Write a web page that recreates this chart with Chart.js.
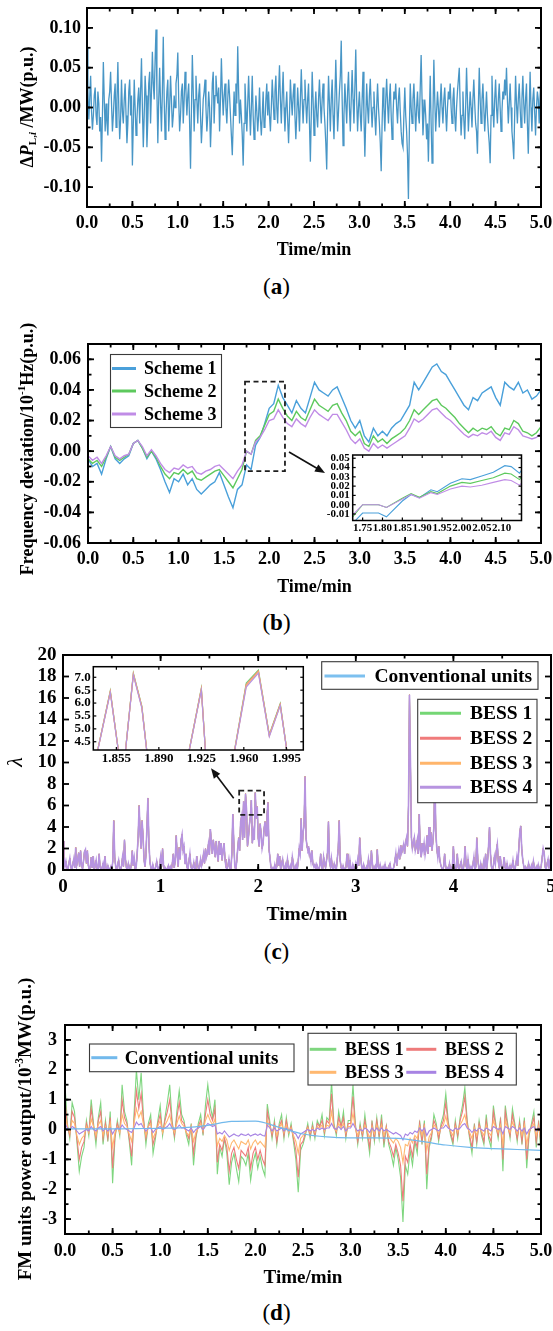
<!DOCTYPE html>
<html>
<head>
<meta charset="utf-8">
<script src="https://cdn.jsdelivr.net/npm/chart.js@4.4.1/dist/chart.umd.min.js"></script>
<style>
  body { margin: 0; background: #fff; width: 553px; height: 1331px; position: relative; overflow: hidden; }
  canvas { position: absolute; }
  .cap { position: absolute; left: 0; width: 553px; height: 26px; line-height: 26px; text-align: center;
         font-family: 'Liberation Serif', 'Times New Roman', serif; font-size: 23px; color: #000; }
</style>
</head>
<body>
<canvas id="chartA" width="553" height="270" style="left:0;top:0"></canvas>
<canvas id="chartB" width="553" height="310" style="left:0;top:300px"></canvas>
<canvas id="chartC" width="553" height="295" style="left:0;top:640px"></canvas>
<canvas id="chartD" width="553" height="330" style="left:0;top:965px"></canvas>
<canvas id="insetB" width="210" height="90" style="left:318px;top:452px"></canvas>
<canvas id="insetC" width="255" height="104" style="left:55px;top:662px"></canvas>
<div class="cap" style="top:274px">(<b>a</b>)</div>
<div class="cap" style="top:610px">(<b>b</b>)</div>
<div class="cap" style="top:939px">(<b>c</b>)</div>
<div class="cap" style="top:1300px">(<b>d</b>)</div>
<script>
const SERIF = "'Liberation Serif', 'Times New Roman', serif";

// sample times on a regular grid
function steps(start, step, n) {
  const out = [];
  for (let i = 0; i < n; i++) out.push(+(start + i * step).toFixed(4));
  return out;
}
// tick-mark positions between two bounds
function marksBetween(min, max, step) {
  const out = [], n = Math.round((max - min) / step);
  for (let i = 0; i <= n; i++) out.push(+(min + i * step).toFixed(5));
  return out;
}
const pts = (xs, ys) => ys.map((v, i) => ({ x: xs[i], y: v }));

// ---------- (a) load disturbance ----------
const aTime = steps(0, 0.01, 501);
const aLoad = [
  .075,.02,-.015,.012,.04,-.005,-.028,-.01,.015,.025,-.01,-.022,.02,.005,-.03,-.012,-.068,-.01,.057,.01,
  -.03,.005,-.02,-.035,.01,.02,.045,.005,-.03,-.01,.015,.03,-.025,.01,.057,.0,-.04,-.015,.035,-.005,
  -.02,.01,.03,-.01,-.045,-.02,.02,.035,-.01,.015,-.073,-.02,.035,.0,-.035,-.015,.01,.025,-.02,.02,
  .062,.0,-.05,-.01,.04,.015,-.05,-.015,.03,.045,-.02,.02,.07,.03,.01,.06,.098,.02,-.045,.01,
  .05,.005,-.03,.02,.089,.01,-.04,-.01,.02,.035,-.03,.0,.04,.01,-.025,-.01,.015,.0,.03,.04,
  .069,.01,-.03,-.01,.02,.03,-.02,.01,.045,.02,-.01,.015,.03,-.02,-.077,-.005,.066,.02,-.03,.01,
  .04,.01,-.02,.015,.03,-.01,-.045,-.02,.01,.02,.035,.0,-.03,-.01,.02,.0,-.05,-.015,.03,.045,
  -.02,.015,.04,.02,.005,.025,-.03,.01,.062,.02,-.01,.015,.03,.0,-.02,.01,.035,.015,-.01,-.035,
  -.06,-.02,.02,-.01,.03,.005,.077,.02,-.02,.01,-.01,-.035,-.073,-.02,.03,.0,-.03,.005,.04,.0,
  -.035,.0,.04,-.01,-.04,-.02,.015,-.005,-.03,-.01,.025,-.015,-.035,-.01,.02,-.025,-.02,.01,.03,-.01,
  .02,-.01,-.03,.0,.035,.01,-.015,.02,.04,.0,-.02,.02,.053,.01,-.02,.015,.045,.0,-.03,.0,
  .02,-.015,-.045,-.01,.035,.01,-.01,.015,.03,-.01,-.04,-.01,.025,.0,-.03,.01,.048,.01,-.02,.01,
  .035,.005,-.02,.01,.03,-.02,-.068,-.01,.045,.01,-.035,-.005,.02,-.01,-.025,.01,.035,.005,-.02,.01,
  .03,.0,-.02,-.045,-.078,-.01,.04,.005,-.03,.01,.035,-.01,-.04,.01,.06,.015,-.03,-.005,.02,.04,
  .084,.01,-.048,-.01,.03,.005,-.02,.02,.045,.0,-.03,.01,.047,.01,-.02,.025,.073,.01,-.03,.0,
  .02,-.01,-.03,.01,.045,-.01,-.062,-.015,.03,.0,-.02,.015,.036,.0,-.025,.0,.02,-.01,-.035,.0,
  .03,.0,-.02,-.045,-.08,-.02,.025,.0,-.03,.01,.036,.005,-.02,.01,.03,-.01,-.04,-.01,.02,.01,
  .03,.0,-.02,.01,.025,-.005,-.03,-.045,-.05,-.01,.025,-.01,-.03,-.06,-.115,-.03,.03,.0,-.02,.01,
  .03,.0,-.03,.0,.02,-.01,-.02,.025,.066,.01,-.035,-.01,.01,-.01,-.04,-.02,-.068,-.01,.04,-.02,
  -.07,-.01,.06,.01,-.03,-.005,.02,.0,-.025,.005,.03,.0,-.02,.01,.025,-.005,-.03,.0,.02,.01,
  .03,.0,-.02,.01,.025,-.01,-.03,.0,.02,.035,.05,.0,-.035,-.01,.02,-.015,-.04,.0,.05,.01,
  -.03,-.005,.02,.0,-.025,.01,.035,.005,-.02,-.03,-.058,.0,.05,.01,-.02,.01,.03,.0,-.03,-.005,
  .02,-.01,-.03,-.045,-.07,-.01,.04,.0,-.025,.01,.035,.0,-.02,.01,.03,.0,-.03,-.005,.02,.01,
  .035,.015,.05,.01,-.02,.005,.03,.0,-.03,-.045,-.065,-.01,.04,.005,-.02,.01,.03,.0,-.025,.01,
  .04,.005,-.02,.01,.03,-.02,-.058,-.005,.045,.0,-.03,.01,.025,-.005,-.035,.0,.02,.01,-.02,.015,
  .038
];
const aXTicks = [0, 0.5, 1, 1.5, 2, 2.5, 3, 3.5, 4, 4.5, 5];
const aYTicks = [-0.10, -0.05, 0, 0.05, 0.10];

// ---------- (b) frequency deviation ----------
const bTime = steps(0, 0.05, 101);
const bScheme1 = [
  -0.005,-0.01,-0.008,-0.015,-0.005,0.003,-0.005,-0.008,-0.005,-0.003,
  0.005,0.007,0.002,-0.005,0.0,-0.005,-0.012,-0.02,-0.027,-0.018,
  -0.02,-0.015,-0.022,-0.018,-0.025,-0.028,-0.025,-0.022,-0.02,-0.014,
  -0.022,-0.03,-0.037,-0.025,-0.022,-0.009,-0.012,0.004,0.009,0.018,
  0.028,0.031,0.043,0.035,0.03,0.025,0.033,0.028,0.025,0.035,
  0.045,0.04,0.038,0.036,0.04,0.042,0.035,0.028,0.02,0.015,
  0.02,0.01,0.006,0.015,0.01,0.013,0.01,0.015,0.018,0.02,
  0.025,0.03,0.045,0.04,0.045,0.05,0.055,0.057,0.052,0.05,
  0.045,0.04,0.035,0.03,0.027,0.035,0.033,0.038,0.04,0.042,
  0.035,0.03,0.045,0.042,0.04,0.045,0.038,0.04,0.034,0.036,
  0.04
];
const bScheme2 = [
  -0.005,-0.008,-0.006,-0.01,-0.004,0.003,-0.004,-0.006,-0.004,-0.002,
  0.005,0.007,0.002,-0.004,0.0,-0.004,-0.01,-0.015,-0.018,-0.014,
  -0.015,-0.012,-0.015,-0.013,-0.018,-0.019,-0.017,-0.015,-0.013,-0.012,
  -0.016,-0.02,-0.024,-0.018,-0.012,0.0,-0.002,0.007,0.01,0.017,
  0.024,0.026,0.034,0.028,0.023,0.02,0.026,0.022,0.02,0.027,
  0.034,0.03,0.028,0.026,0.03,0.031,0.025,0.02,0.013,0.01,
  0.013,0.005,0.003,0.01,0.006,0.008,0.005,0.008,0.01,0.012,
  0.015,0.02,0.027,0.024,0.027,0.03,0.033,0.034,0.03,0.028,
  0.025,0.022,0.018,0.015,0.012,0.015,0.013,0.015,0.014,0.016,
  0.012,0.01,0.015,0.014,0.02,0.018,0.013,0.012,0.01,0.012,
  0.016
];
const bScheme3 = [
  -0.003,-0.006,-0.004,-0.008,-0.003,0.003,-0.003,-0.005,-0.003,-0.002,
  0.005,0.007,0.003,-0.003,0.001,-0.003,-0.008,-0.012,-0.014,-0.011,
  -0.012,-0.009,-0.011,-0.01,-0.014,-0.015,-0.013,-0.012,-0.01,-0.009,
  -0.012,-0.015,-0.018,-0.013,-0.009,0.0,-0.002,0.006,0.009,0.014,
  0.02,0.021,0.027,0.022,0.018,0.016,0.021,0.018,0.016,0.022,
  0.027,0.024,0.022,0.02,0.024,0.024,0.019,0.014,0.008,0.005,
  0.008,0.002,0.0,0.005,0.002,0.004,0.002,0.004,0.006,0.008,
  0.01,0.015,0.021,0.019,0.021,0.024,0.027,0.028,0.025,0.022,
  0.02,0.017,0.014,0.011,0.009,0.011,0.01,0.012,0.011,0.013,
  0.009,0.007,0.012,0.011,0.016,0.014,0.01,0.009,0.008,0.009,
  0.012
];
const bXTicks = aXTicks;
const bYTicks = [-0.06, -0.04, -0.02, 0, 0.02, 0.04, 0.06];
// enlarged window 1.73-2.17 min
const ibTime = [1.725,1.75,1.79,1.81,1.85,1.872,1.893,1.922,1.938,1.971,2.0,2.021,2.05,2.079,2.108,2.124,2.145,2.15];
const ibScheme1 = [-0.02,-0.009,-0.009,-0.013,0.004,0.011,0.0075,0.016,0.014,0.023,0.028,0.027,0.031,0.035,0.042,0.041,0.034,0.037];
const ibScheme2 = [-0.013,0.0,0.0,-0.003,0.007,0.012,0.008,0.014,0.012,0.02,0.024,0.023,0.026,0.029,0.034,0.033,0.027,0.03];
const ibScheme3 = [-0.011,0.0,0.0,-0.003,0.006,0.011,0.007,0.013,0.011,0.017,0.02,0.019,0.021,0.024,0.027,0.026,0.021,0.023];
const ibXTicks = [1.75, 1.80, 1.85, 1.90, 1.95, 2.00, 2.05, 2.10];
const ibYTicks = [-0.01, 0.00, 0.01, 0.02, 0.03, 0.04, 0.05];

// ---------- (c) lambda ----------
const cTime = steps(0, 0.01, 501);
const cLambda = [
  2.7,1.2,0.3,0.8,0.2,0,0.6,1.1,0.3,0,
  0.5,1,0.2,2.1,0.4,0.9,1.6,0.3,1.8,0.5,
  0.1,0.8,1.7,1.9,0.6,1.8,0.4,0,0.3,1.2,
  0.2,1.3,0,0.4,0.9,0.1,0,1.5,0.3,0,
  0.2,0.6,0,1.3,0.2,0,0.4,0.1,0,0.3,
  0,0.8,4.6,1.2,0.3,0,0.5,0.9,0.1,0,
  0.4,1.2,0.3,2.8,1,0.2,0,0.6,0.2,0,
  0.5,1.8,0.4,1.1,0,0.3,1.5,3.1,6,3.5,
  2,4.6,3.2,1,0.3,1.4,4,6.7,2.6,0.8,
  0.2,0,0.5,0.1,0,0.3,0.8,0.2,0,0.4,
  1.2,0.3,2,0.5,0,0.2,0,0.1,0.4,0,
  0.3,0,0.6,1.5,0.2,0.9,3.2,1.4,0.3,2.1,
  1,2.8,3.3,1.8,2.2,0.6,1.5,0.3,0,0.8,
  1.5,0.4,0,0.2,0.7,0.1,0,1.3,0.5,0,
  0.3,1,0.4,0.8,1.5,0.6,2,1.2,1.6,2.4,
  1.4,3.8,2.6,1.5,2.8,2,1.2,2.7,1.6,0.8,
  2.7,1.4,2.5,0.9,1.8,2.5,1,0.3,0,0.4,
  1,0.2,0,1.5,5.2,2.6,0.4,0,0.8,2,
  3,1.8,4.5,5,2.8,6.4,3,7.1,5.7,2.2,
  3,4.2,5,6.5,2.5,3.5,2.8,7.2,4.8,5.9,
  3,2.2,4.3,3.4,2,2.5,3.8,4.5,3.2,5,
  6.3,2,1.2,0.3,0,0.2,0,0.5,0,0.3,
  1.5,0.4,1.3,0,0.6,1,0.2,0,0.5,0.1,
  1,0.3,0,0.4,0,1.2,0.6,0,0.2,0.5,
  0,0.8,2,1.5,4.8,1.8,3.5,4.2,8.7,3,
  2.2,1.8,2,1.4,0.8,1.8,0.6,0.3,0.5,0,
  0.5,0.2,0,0.4,1.5,0.3,0,1.2,0.6,0.2,
  0.9,1.6,4.5,0.8,0.3,1.1,0.2,0,0.6,0.3,
  0,1,2,4.6,0.9,0.2,0,0.4,0.1,0,
  0.3,1.5,0.4,0,0.9,0.1,0,0.5,0.2,0,
  0.6,0.2,1,0.4,3,1.2,0.3,0,0.5,0.1,
  0,0.3,0,1,0.4,0,1.8,0.6,0,0.2,
  0.4,0,1.9,0.3,0,0.5,0.1,0,0.3,0,
  0.5,0,0.2,0,0.4,0.6,0,0.1,0,0.3,
  0.8,1.5,0.4,1.2,1.8,1,2.3,1.6,2,2.4,
  1.5,2.5,3,2.2,6,16.3,10,3,2,2.5,
  3,1.8,2.2,2.8,1.5,5.2,2,1.2,2.5,1.8,
  2.5,1.4,2,3.2,1.5,4,2.2,3.5,1.8,2.6,
  4,9,3.5,2,1.2,2.2,1,0.5,0.2,0,
  0.3,1.5,0.4,0,0.2,0,0.6,0.1,0,0.4,
  2.2,0.6,0,0.3,1.5,0.2,0,0.5,0.8,0.1,
  0,0.6,2.2,0.4,0,1,0.2,0,0.3,0,
  0.5,1.2,0,0.3,3,1,0.2,0,0.6,0.1,
  0,0.8,0.3,1.5,0,0.9,2.2,4,1.5,0.3,
  0,0.4,1.2,0.6,1.8,2.4,0.8,0.2,1.3,0.4,
  0,0.3,1.2,0.2,0,0.6,0.1,0,0.4,0,
  0.3,0.9,0.2,0,0.5,1.2,0.4,2,3.5,4.1,
  2,1,0.4,0,0.3,0.1,0,0.6,0.2,0,
  0.4,0,0.8,0.2,0,0.3,0,0.5,0.1,0,
  0.4,1.2,2,1.6,0.3,0,0.6,1,0.2,0.8,
  1.3
];
const cXTicks = [0, 1, 2, 3, 4, 5];
const cYTicks = [0, 2, 4, 6, 8, 10, 12, 14, 16, 18, 20];
// enlarged window 1.836-2.009 min
const icTime = [1.832,1.850,1.860,1.869,1.876,1.884,1.908,1.925,1.930,1.948,1.962,1.972,1.981,1.990,1.999];
const icBess1 = [2.5,6.48,3.0,7.16,5.88,2.5,2.5,6.58,3.0,3.0,6.78,7.28,4.78,5.98,3.0];
const icBess2 = [2.5,6.45,3.0,7.13,5.85,2.5,2.5,6.55,3.0,3.0,6.72,7.24,4.75,5.95,3.0];
const icBess3 = [2.5,6.43,3.0,7.11,5.83,2.5,2.5,6.53,3.0,3.0,6.68,7.21,4.73,5.92,3.0];
const icBess4 = [2.5,6.40,3.0,7.08,5.80,2.5,2.5,6.50,3.0,3.0,6.62,7.16,4.70,5.90,3.0];
const icXTicks = [1.855, 1.890, 1.925, 1.960, 1.995];
const icYTicks = [4.5, 5.0, 5.5, 6.0, 6.5, 7.0];

// ---------- (d) FM unit outputs ----------
const dTime = steps(0, 0.025, 201);
const dConvTime = steps(0, 0.25, 21);
const dConv = [0.02,0.02,0.02,0.03,0.04,0.06,0.14,0.27,0.28,0.07,-0.15,-0.25,-0.28,-0.28,-0.3,-0.4,-0.52,-0.6,-0.64,-0.67,-0.7];
const dBess1 = [
  1.5,0.2,-0.3,0.9, 0.6,-0.4,-1.4,-0.9, -0.6,0.3,-0.2,1.0, 0.2,-0.5,0.4,0.9, -0.5,0.3,-0.4,0.6,
  -1.8,-0.3,0.3,-0.2, 1.5,0.6,0.3,-0.4, -1.2,0.5,2.0,1.0, 1.9,0.4,-0.5,0.2, 0.5,-0.8,-0.3,0.3,
  0.8,-0.2,0.4,0.9, 1.5,0.3,-0.3,0.6, 1.3,0.5,0.3,-0.2, -0.5,0.2,-1.2,-0.3, 0.2,0.5,-0.2,0.8,
  1.5,0.8,0.4,1.0, -1.5,-0.6,-0.9,-0.3, -0.8,-1.85,-1.1,-0.8, -1.3,-1.75,-0.9,-1.0, -1.2,-0.8,-1.7,-1.1,
  -0.8,-1.3,-0.9,-1.3, -1.55,0.85,0.3,-0.3, 0.3,-0.5,0.2,0.5, -0.3,0.4,-0.2,0.2, -0.4,-1.0,-2.1,-0.7,
  -0.5,-0.2,0.2,-0.3, 0.2,-0.3,0.3,0.1, 0.5,-0.2,0.4,0.3, 1.6,0.2,-0.2,0.6, 0.1,0.6,-0.3,0.3,
  0.3,1.5,0.2,-0.5, 0.2,-0.3,0.5,-0.2, -0.8,0.3,-0.4,0.4, -0.3,0.5,-0.6,0.1, -0.5,-0.8,-1.2,-0.6,
  -1.0,-1.6,-3.1,-1.2, -1.5,-0.7,-1.2,-0.4, -0.8,0.3,-0.5,0.3, -2.0,-0.6,-0.3,0.5, 0.2,-0.4,0.2,0.5,
  1.2,0.3,-0.2,-0.5, 0.3,-0.3,0.4,0.8, 1.4,0.3,-0.3,-0.8, 0.2,-0.5,0.3,-0.2, -0.5,0.5,-0.3,-0.6,
  0.8,0.2,-0.3,0.4, -1.4,0.8,0.2,-0.3, 0.7,0.2,-0.4,0.3, -0.5,0.4,-1.3,-0.2, 0.2,0.6,-0.6,0.3,
  -0.8
];
const dBess2 = [
  1.0,0.1,-0.2,0.6, 0.4,-0.3,-1.0,-0.6, -0.4,0.2,-0.1,0.7, 0.1,-0.3,0.3,0.6, -0.3,0.2,-0.3,0.4,
  -1.3,-0.2,0.2,-0.1, 1.0,0.4,0.2,-0.3, -0.9,0.3,1.3,0.7, 1.2,0.3,-0.3,0.1, 0.3,-0.5,-0.2,0.2,
  0.5,-0.1,0.3,0.6, 1.0,0.2,-0.2,0.4, 0.9,0.3,0.2,-0.1, -0.3,0.1,-0.8,-0.2, 0.1,0.3,-0.1,0.5,
  1.0,0.5,0.3,0.7, -1.1,-0.5,-0.7,-0.3, -0.6,-1.4,-0.8,-0.6, -1.0,-1.3,-0.7,-0.8, -0.9,-0.6,-1.3,-0.8,
  -0.6,-1.0,-0.7,-1.0, -1.2,0.6,0.2,-0.2, 0.2,-0.4,0.1,0.3, -0.2,0.3,-0.1,0.1, -0.3,-0.7,-1.6,-0.5,
  -0.4,-0.1,0.1,-0.2, 0.1,-0.2,0.2,0.1, 0.3,-0.1,0.3,0.2, 1.2,0.1,-0.1,0.4, 0.1,0.4,-0.2,0.2,
  0.2,1.1,0.1,-0.4, 0.1,-0.2,0.3,-0.1, -0.6,0.2,-0.3,0.3, -0.2,0.3,-0.4,0.1, -0.4,-0.6,-0.9,-0.5,
  -0.8,-1.2,-2.4,-0.9, -1.1,-0.5,-0.9,-0.3, -0.6,0.2,-0.4,0.2, -1.5,-0.5,-0.2,0.3, 0.1,-0.3,0.1,0.3,
  0.9,0.2,-0.1,-0.4, 0.2,-0.2,0.3,0.6, 1.1,0.2,-0.2,-0.6, 0.1,-0.4,0.2,-0.1, -0.4,0.3,-0.2,-0.4,
  0.6,0.1,-0.2,0.3, -1.0,0.6,0.1,-0.2, 0.5,0.1,-0.3,0.2, -0.4,0.3,-1.0,-0.1, 0.1,0.4,-0.4,0.2,
  -0.5
];
const dBess3 = [
  0.5,0.1,-0.1,0.3, 0.2,-0.2,-0.5,-0.3, -0.2,0.1,-0.1,0.35, 0.1,-0.2,0.15,0.3, -0.2,0.1,-0.15,0.2,
  -0.6,-0.1,0.1,-0.1, 0.5,0.2,0.1,-0.15, -0.4,0.2,0.7,0.4, 0.6,0.15,-0.2,0.1, 0.2,-0.3,-0.1,0.1,
  0.3,-0.1,0.15,0.3, 0.5,0.1,-0.1,0.2, 0.45,0.2,0.1,-0.1, -0.2,0.1,-0.4,-0.1, 0.05,0.2,-0.05,0.3,
  0.5,0.3,0.15,0.35, -0.55,-0.3,-0.4,-0.2, -0.35,-0.7,-0.45,-0.35, -0.5,-0.65,-0.4,-0.45, -0.5,-0.35,-0.65,-0.45,
  -0.35,-0.5,-0.4,-0.5, -0.6,0.3,0.1,-0.1, 0.1,-0.2,0.05,0.2, -0.1,0.15,-0.1,0.05, -0.2,-0.4,-0.8,-0.3,
  -0.2,-0.1,0.05,-0.1, 0.05,-0.1,0.1,0.05, 0.15,-0.05,0.15,0.1, 0.6,0.05,-0.05,0.2, 0.05,0.2,-0.1,0.1,
  0.1,0.55,0.05,-0.2, 0.05,-0.1,0.15,-0.05, -0.3,0.1,-0.15,0.15, -0.1,0.15,-0.2,0.05, -0.2,-0.35,-0.45,-0.3,
  -0.4,-0.6,-1.1,-0.5, -0.55,-0.3,-0.45,-0.2, -0.3,0.1,-0.2,0.1, -0.7,-0.25,-0.1,0.15, 0.05,-0.15,0.05,0.15,
  0.45,0.1,-0.05,-0.2, 0.1,-0.1,0.15,0.3, 0.5,0.1,-0.1,-0.3, 0.05,-0.2,0.1,-0.05, -0.2,0.15,-0.1,-0.2,
  0.3,0.05,-0.1,0.15, -0.5,0.3,0.05,-0.1, 0.25,0.05,-0.15,0.1, -0.2,0.15,-0.5,-0.05, 0.05,0.2,-0.2,0.1,
  -0.3
];
const dBess4 = [
  0.2,0.05,0.0,0.1, 0.05,-0.05,-0.15,-0.1, -0.05,0.0,-0.05,0.1, 0.0,-0.05,0.05,0.1, -0.05,0.05,-0.05,0.05,
  -0.15,0.0,0.05,0.0, 0.15,0.05,0.0,-0.05, -0.1,0.05,0.25,0.15, 0.2,0.05,-0.05,0.05, 0.05,-0.1,0.0,0.05,
  0.1,0.0,0.05,0.1, 0.2,0.05,0.0,0.05, 0.15,0.05,0.05,0.0, -0.05,0.05,-0.1,0.0, 0.05,0.1,0.0,0.1,
  0.2,0.15,0.1,0.15, -0.15,-0.1,-0.15,-0.05, -0.15,-0.25,-0.2,-0.15, -0.2,-0.22,-0.15,-0.18, -0.2,-0.15,-0.22,-0.18,
  -0.15,-0.2,-0.15,-0.2, -0.22,0.15,0.05,-0.05, 0.05,-0.05,0.0,0.05, -0.05,0.05,-0.05,0.0, -0.1,-0.15,-0.3,-0.15,
  -0.1,-0.05,0.0,-0.05, 0.0,-0.05,0.05,0.0, 0.05,0.0,0.05,0.05, 0.2,0.05,0.0,0.1, 0.0,0.1,-0.05,0.05,
  0.05,0.2,0.05,-0.05, 0.0,-0.05,0.05,0.0, -0.1,0.05,-0.05,0.05, -0.05,0.05,-0.05,0.0, -0.05,-0.1,-0.15,-0.1,
  -0.15,-0.2,-0.35,-0.15, -0.2,-0.1,-0.15,-0.05, -0.1,0.05,-0.05,0.05, -0.2,-0.05,0.0,0.05, 0.0,-0.05,0.05,0.05,
  0.15,0.05,0.0,-0.05, 0.05,0.0,0.05,0.15, 0.2,0.05,0.0,-0.1, 0.0,-0.05,0.05,0.0, -0.05,0.05,0.0,-0.05,
  0.1,0.05,0.0,0.05, -0.15,0.1,0.05,0.0, 0.1,0.05,-0.05,0.05, -0.05,0.05,-0.15,0.0, 0.05,0.1,-0.05,0.05,
  -0.1
];
const dXTicks = aXTicks;
const dYTicks = [-3, -2, -1, 0, 1, 2, 3];

// ---------- drawing helpers ----------
function seg(ctx, x0, y0, x1, y1) {
  ctx.beginPath(); ctx.moveTo(x0, y0); ctx.lineTo(x1, y1); ctx.stroke();
}

// text made of runs with their own font and baseline shift, optionally turned 90° left
function richText(ctx, cx, cy, runs, turned) {
  ctx.save();
  ctx.translate(cx, cy);
  if (turned) ctx.rotate(-Math.PI / 2);
  ctx.textBaseline = 'middle';
  ctx.textAlign = 'left';
  ctx.fillStyle = '#000';
  let total = 0;
  const widths = runs.map(r => { ctx.font = r.font; const w = ctx.measureText(r.text).width; total += w; return w; });
  let x = -total / 2;
  runs.forEach((r, i) => { ctx.font = r.font; ctx.fillText(r.text, x, r.dy || 0); x += widths[i]; });
  ctx.restore();
}

// frame with inward ticks on four sides, zoom box, arrow, legends and axis title
function decor(d) {
  return {
    id: 'decor',
    beforeDatasetsDraw(chart) {
      if (!d.whiteArea) return;
      const { ctx, chartArea: a } = chart;
      ctx.save(); ctx.fillStyle = '#fff'; ctx.fillRect(a.left, a.top, a.width, a.height); ctx.restore();
    },
    afterDatasetsDraw(chart) {
      const { ctx, chartArea: a, scales: { x, y } } = chart;
      ctx.save();
      if (d.zoomBox) {
        const [x0, x1, y0, y1] = d.zoomBox;
        const px0 = x.getPixelForValue(x0), px1 = x.getPixelForValue(x1);
        const py0 = y.getPixelForValue(y1), py1 = y.getPixelForValue(y0);
        ctx.setLineDash([5, 3.5]);
        ctx.lineWidth = 1.8;
        ctx.strokeStyle = '#1e1e1e';
        ctx.strokeRect(px0, py0, px1 - px0, py1 - py0);
        ctx.setLineDash([]);
      }
      ctx.strokeStyle = '#000';
      ctx.lineWidth = d.frameWidth;
      ctx.strokeRect(a.left, a.top, a.width, a.height);
      ctx.lineWidth = d.tickWidth;
      const mark = (scale, values, len, horiz) => values.forEach(v => {
        const p = scale.getPixelForValue(v);
        if (horiz) { seg(ctx, p, a.bottom, p, a.bottom - len); seg(ctx, p, a.top, p, a.top + len); }
        else { seg(ctx, a.left, p, a.left + len, p); seg(ctx, a.right, p, a.right - len, p); }
      });
      mark(x, d.xMajor, d.majorLen, true);
      mark(y, d.yMajor, d.majorLen, false);
      if (d.xMinor) mark(x, d.xMinor, d.minorLen, true);
      if (d.yMinor) mark(y, d.yMinor, d.minorLen, false);
      ctx.restore();
    },
    afterDraw(chart) {
      const { ctx } = chart;
      ctx.save();
      if (d.arrow) {
        const [x0, y0, x1, y1] = d.arrow;
        const ang = Math.atan2(y1 - y0, x1 - x0);
        ctx.strokeStyle = '#111'; ctx.fillStyle = '#111'; ctx.lineWidth = 1.6;
        seg(ctx, x0, y0, x1 - 6 * Math.cos(ang), y1 - 6 * Math.sin(ang));
        ctx.beginPath();
        ctx.moveTo(x1, y1);
        ctx.lineTo(x1 - 10 * Math.cos(ang) + 4 * Math.sin(ang), y1 - 10 * Math.sin(ang) - 4 * Math.cos(ang));
        ctx.lineTo(x1 - 10 * Math.cos(ang) - 4 * Math.sin(ang), y1 - 10 * Math.sin(ang) + 4 * Math.cos(ang));
        ctx.closePath(); ctx.fill();
      }
      (d.legends || []).forEach(lg => {
        const [bx, by, bw, bh] = lg.box;
        ctx.fillStyle = '#fff'; ctx.fillRect(bx, by, bw, bh);
        ctx.strokeStyle = '#3a3a3a'; ctx.lineWidth = 1.1; ctx.strokeRect(bx, by, bw, bh);
        lg.rows.forEach(r => {
          const ds = chart.data.datasets[r.ds];
          ctx.strokeStyle = ds.borderColor; ctx.lineWidth = 3;
          seg(ctx, r.x0, r.y, r.x1, r.y);
          ctx.fillStyle = '#000'; ctx.font = lg.font; ctx.textBaseline = 'middle'; ctx.textAlign = 'left';
          ctx.fillText(ds.label, r.tx, r.y + 1);
        });
      });
      ctx.restore();
      if (d.yTitle) richText(ctx, d.yTitle.x, d.yTitle.y, d.yTitle.runs, true);
    }
  };
}

function xScale(o) {
  return {
    type: 'linear', min: o.min, max: o.max,
    grid: { display: false, drawTicks: false }, border: { display: false },
    ticks: { font: { family: SERIF, size: o.size, weight: 'bold' }, color: '#000', padding: o.pad,
             maxRotation: 0, autoSkip: false, callback: o.fmt },
    title: o.title ? { display: true, text: o.title, color: '#000',
                       font: { family: SERIF, size: o.titleSize, weight: 'bold' },
                       padding: { top: 0, bottom: o.titlePad } } : { display: false },
    afterBuildTicks: s => { s.ticks = o.ticks.map(v => ({ value: v })); },
    afterFit: s => { s.height = o.height; s.paddingLeft = 0; s.paddingRight = 0; }
  };
}
function yScale(o) {
  return {
    type: 'linear', min: o.min, max: o.max,
    grid: { display: false, drawTicks: false }, border: { display: false },
    ticks: { font: { family: SERIF, size: o.size, weight: 'bold' }, color: '#000', padding: o.pad,
             autoSkip: false, callback: o.fmt },
    afterBuildTicks: s => { s.ticks = o.ticks.map(v => ({ value: v })); },
    afterFit: s => { s.width = o.width; s.paddingTop = 0; s.paddingBottom = 0; }
  };
}
function series(label, xs, ys, color, width, order, extra) {
  return Object.assign({ label, data: pts(xs, ys), borderColor: color, borderWidth: width,
                         order, pointRadius: 0, fill: false }, extra || {});
}
function makeChart(id, spec) {
  return new Chart(document.getElementById(id), {
    type: 'line',
    data: { datasets: spec.datasets },
    options: {
      responsive: false, animation: false, devicePixelRatio: 1,
      layout: { padding: spec.padding },
      elements: { point: { radius: 0 }, line: { tension: 0 } },
      plugins: { legend: { display: false }, tooltip: { enabled: false } },
      scales: { x: spec.x, y: spec.y }
    },
    plugins: [decor(spec.decor)]
  });
}

const f1 = v => v.toFixed(1), f2 = v => v.toFixed(2), f3 = v => v.toFixed(3), f0 = v => String(v);
const bold = s => `bold ${s}px ${SERIF}`;
const boldIt = s => `italic bold ${s}px ${SERIF}`;

// (a)
makeChart('chartA', {
  datasets: [series('Load', aTime, aLoad, '#4896c6', 1.3, 0)],
  padding: { left: 0, top: 8, right: 12, bottom: 0 },
  x: xScale({ min: 0, max: 5, ticks: aXTicks, fmt: f1, size: 18, pad: 6, height: 63,
              title: 'Time/min', titleSize: 18, titlePad: 9 }),
  y: yScale({ min: -0.125, max: 0.125, ticks: aYTicks, fmt: f2, size: 18, pad: 6, width: 87 }),
  decor: {
    frameWidth: 2, tickWidth: 1.8, majorLen: 6, minorLen: 3.5,
    xMajor: aXTicks, xMinor: marksBetween(0, 5, 0.25),
    yMajor: aYTicks, yMinor: marksBetween(-0.125, 0.125, 0.025),
    yTitle: { x: 28, y: 107, runs: [
      { text: 'Δ', font: bold(18) }, { text: 'P', font: boldIt(18) },
      { text: 'L,', font: bold(11), dy: 5 }, { text: 'i', font: boldIt(11), dy: 5 },
      { text: ' /MW(p.u.)', font: bold(18) } ] }
  }
});

// (b)
makeChart('chartB', {
  datasets: [
    series('Scheme 1', bTime, bScheme1, '#4aa0da', 1.4, 2),
    series('Scheme 2', bTime, bScheme2, '#5dc95d', 1.4, 1),
    series('Scheme 3', bTime, bScheme3, '#c08ce6', 1.4, 0)
  ],
  padding: { left: 0, top: 44, right: 12, bottom: 0 },
  x: xScale({ min: 0, max: 5, ticks: bXTicks, fmt: f1, size: 18, pad: 6, height: 67,
              title: 'Time/min', titleSize: 18, titlePad: 12 }),
  y: yScale({ min: -0.06, max: 0.07, ticks: bYTicks, fmt: f2, size: 18, pad: 7, width: 88 }),
  decor: {
    frameWidth: 2, tickWidth: 1.8, majorLen: 6, minorLen: 3.5,
    xMajor: bXTicks, xMinor: marksBetween(0, 5, 0.25),
    yMajor: bYTicks, yMinor: marksBetween(-0.06, 0.07, 0.01),
    zoomBox: [1.733, 2.174, -0.013, 0.0454],
    arrow: [289, 152, 325, 173],
    legends: [{ box: [110.5, 54.5, 111, 73], font: bold(18), rows: [
      { ds: 0, y: 68.5, x0: 112, x1: 136, tx: 144 },
      { ds: 1, y: 91, x0: 112, x1: 136, tx: 144 },
      { ds: 2, y: 114, x0: 112, x1: 136, tx: 144 } ] }],
    yTitle: { x: 28, y: 149, runs: [
      { text: 'Frequency deviation/10', font: bold(18) },
      { text: '-1', font: bold(11), dy: -6 },
      { text: 'Hz(p.u.)', font: bold(18) } ] }
  }
});

// (b) enlarged window
makeChart('insetB', {
  datasets: [
    series('Scheme 1', ibTime, ibScheme1, '#4aa0da', 1.1, 2),
    series('Scheme 2', ibTime, ibScheme2, '#5dc95d', 1.1, 1),
    series('Scheme 3', ibTime, ibScheme3, '#c08ce6', 1.1, 0)
  ],
  padding: { left: 0, top: 3, right: 6.5, bottom: 0 },
  x: xScale({ min: 1.725, max: 2.15, ticks: ibXTicks, fmt: f2, size: 11, pad: 1.5, height: 21.5 }),
  y: yScale({ min: -0.017, max: 0.0535, ticks: ibYTicks, fmt: f2, size: 11, pad: 3, width: 34.7 }),
  decor: { whiteArea: true, frameWidth: 1.5, tickWidth: 1.2, majorLen: 3, minorLen: 0,
           xMajor: ibXTicks, yMajor: ibYTicks }
});

// (c): the four BESS traces coincide, BESS 4 lies on top
makeChart('chartC', {
  datasets: [
    series('Conventional units', cTime, cLambda, '#7cc0ef', 1.0, 4),
    series('BESS 1', cTime, cLambda, '#74d674', 1.0, 3),
    series('BESS 2', cTime, cLambda, '#f07b7b', 1.0, 2),
    series('BESS 3', cTime, cLambda, '#ffb56b', 1.0, 1),
    series('BESS 4', cTime, cLambda, '#b794e0', 1.6, 0)
  ],
  padding: { left: 0, top: 15, right: 2, bottom: 0 },
  x: xScale({ min: 0, max: 5, ticks: cXTicks, fmt: f0, size: 19, pad: 5.3, height: 65,
              title: 'Time/min', titleSize: 19.5, titlePad: 8.5 }),
  y: yScale({ min: 0, max: 20, ticks: cYTicks, fmt: f0, size: 19, pad: 6.4, width: 63 }),
  decor: {
    frameWidth: 2, tickWidth: 1.8, majorLen: 6, minorLen: 3.5,
    xMajor: cXTicks, xMinor: marksBetween(0, 5, 0.5), yMajor: cYTicks,
    zoomBox: [1.805, 2.06, 5.12, 7.38],
    arrow: [233.7, 158.3, 211, 128.3],
    legends: [
      { box: [321.7, 21.7, 216.3, 27.6], font: bold(19.5), rows: [
        { ds: 0, y: 36, x0: 324.5, x1: 365, tx: 374.5 } ] },
      { box: [417.7, 59.3, 119.3, 103.4], font: bold(19.5), rows: [
        { ds: 1, y: 73.3, x0: 420, x1: 461, tx: 470 },
        { ds: 2, y: 98.3, x0: 420, x1: 461, tx: 470 },
        { ds: 3, y: 123.3, x0: 420, x1: 461, tx: 470 },
        { ds: 4, y: 147.3, x0: 420, x1: 461, tx: 470 } ] }
    ],
    yTitle: { x: 16, y: 122, runs: [{ text: 'λ', font: `italic 22px ${SERIF}` }] }
  }
});

// (c) enlarged window
makeChart('insetC', {
  datasets: [
    series('BESS 1', icTime, icBess1, '#74d674', 1.2, 3),
    series('BESS 2', icTime, icBess2, '#f07b7b', 1.2, 2),
    series('BESS 3', icTime, icBess3, '#ffb56b', 1.2, 1),
    series('BESS 4', icTime, icBess4, '#b794e0', 1.2, 0)
  ],
  padding: { left: 0, top: 4.7, right: 6.7, bottom: 0 },
  x: xScale({ min: 1.836, max: 2.009, ticks: icXTicks, fmt: f3, size: 13, pad: 0.5, height: 16 }),
  y: yScale({ min: 4.18, max: 7.41, ticks: icYTicks, fmt: f1, size: 13, pad: 2.6, width: 38.3 }),
  decor: { whiteArea: true, frameWidth: 1.5, tickWidth: 1.2, majorLen: 3, minorLen: 0,
           xMajor: icXTicks, yMajor: icYTicks }
});

// (d)
makeChart('chartD', {
  datasets: [
    series('Conventional units', dConvTime, dConv, '#72b9ec', 1.2, 0, { cubicInterpolationMode: 'monotone' }),
    series('BESS 1', dTime, dBess1, '#7fd67f', 1.1, 4),
    series('BESS 2', dTime, dBess2, '#ee7b7b', 1.1, 3),
    series('BESS 3', dTime, dBess3, '#ffb870', 1.1, 2),
    series('BESS 4', dTime, dBess4, '#a783e3', 1.1, 1)
  ],
  padding: { left: 0, top: 60, right: 12, bottom: 0 },
  x: xScale({ min: 0, max: 5, ticks: dXTicks, fmt: f1, size: 18, pad: 7, height: 61,
              title: 'Time/min', titleSize: 19, titlePad: 5.6 }),
  y: yScale({ min: -3.5, max: 3.5, ticks: dYTicks, fmt: f0, size: 18, pad: 8, width: 65 }),
  decor: {
    frameWidth: 2, tickWidth: 1.8, majorLen: 6, minorLen: 3.5,
    xMajor: dXTicks, xMinor: marksBetween(0, 5, 0.25),
    yMajor: dYTicks, yMinor: marksBetween(-3.5, 3.5, 0.5),
    legends: [
      { box: [89.5, 79, 204.5, 27.7], font: bold(19), rows: [
        { ds: 0, y: 92.7, x0: 91.3, x1: 117.3, tx: 124.7 } ] },
      { box: [308, 68.3, 208.3, 51.7], font: bold(18.5), rows: [
        { ds: 1, y: 84.3, x0: 309.7, x1: 336.3, tx: 344.7 },
        { ds: 2, y: 84.3, x0: 406.3, x1: 436.3, tx: 444.7 },
        { ds: 3, y: 107.3, x0: 309.7, x1: 336.3, tx: 344.7 },
        { ds: 4, y: 107.3, x0: 406.3, x1: 436.3, tx: 444.7 } ] }
    ],
    yTitle: { x: 26.5, y: 164, runs: [
      { text: 'FM units power output/10', font: bold(19) },
      { text: '-3', font: bold(11.5), dy: -6 },
      { text: 'MW(p.u.)', font: bold(19) } ] }
  }
});
</script>
</body>
</html>
